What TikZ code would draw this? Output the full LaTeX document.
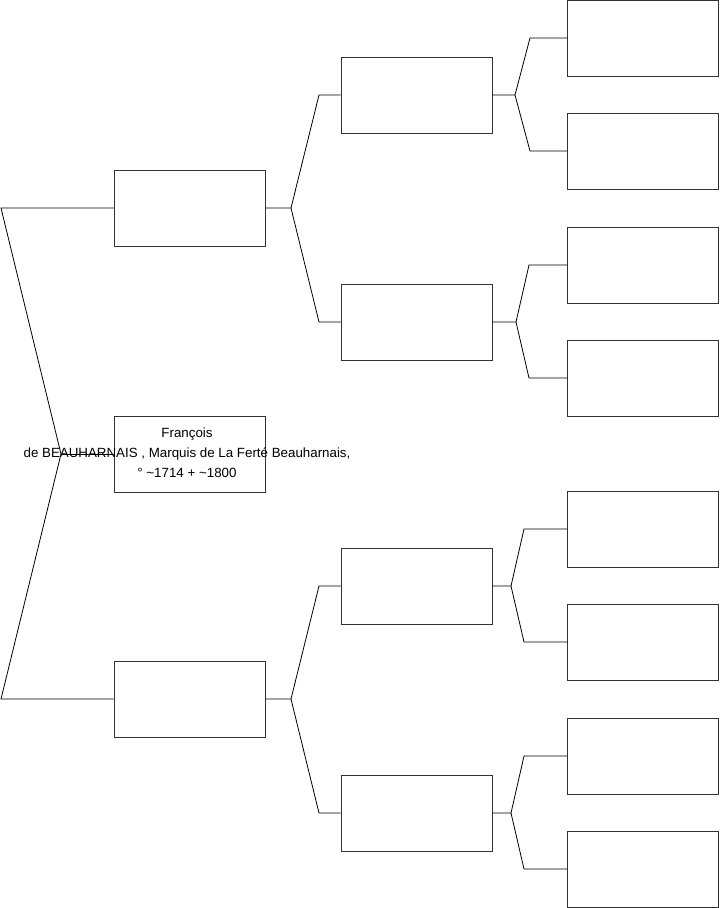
\documentclass[tikz,border=0pt]{standalone}
\usepackage{fontspec}
\setmainfont{Liberation Sans}
\usetikzlibrary{positioning}
\definecolor{BoxGray}{HTML}{333333}
\tikzset{
  person/.style={draw=BoxGray, fill=white, minimum width=113.25pt, minimum height=57pt, inner sep=0pt},
  nametext/.style={align=center, font=\fontsize{10pt}{15pt}\selectfont, inner sep=0pt},
  link/.style={draw=black, line width=0.6pt}
}
\begin{document}
\begin{tikzpicture}[x=0.75pt, y=-0.75pt]
\useasboundingbox (0,0) rectangle (719,908);

% person and parents
\node[person] (self) at (189.5,454) {};
\node[person] (fa) at (189.5,208) {};
\node[person] (mo) at (189.5,699) {};

% grandparents
\node[person] (ffa) at (416.5,95) {};
\node[person] (fmo) at (416.5,322) {};
\node[person] (mfa) at (416.5,586) {};
\node[person] (mmo) at (416.5,813) {};

% great-grandparents
\node[person] (g1) at (643,38) {};
\node[person] (g2) at (643,151) {};
\node[person] (g3) at (643,265) {};
\node[person] (g4) at (643,378) {};
\node[person] (g5) at (643,529) {};
\node[person] (g6) at (643,642) {};
\node[person] (g7) at (643,756) {};
\node[person] (g8) at (643,869) {};

% fork points
\coordinate (ltop) at (1,208);
\coordinate (lmid) at (61,454);
\coordinate (lbot) at (1,699);

\coordinate (kfa) at (291,208);
\coordinate (kmo) at (291,699);
\coordinate (kffa) at (515,95);
\coordinate (kfmo) at (516,322);
\coordinate (kmfa) at (511,586);
\coordinate (kmmo) at (511,813);

\draw[link] (fa.west) -- (ltop) -- (lmid) -- (lbot) -- (mo.west);
\draw[link] (lmid) -- (self.west);

\draw[link] (fa.east) -- (kfa) -- (319,95) -- (ffa.west);
\draw[link] (kfa) -- (319,322) -- (fmo.west);
\draw[link] (mo.east) -- (kmo) -- (319,586) -- (mfa.west);
\draw[link] (kmo) -- (319,813) -- (mmo.west);

\draw[link] (ffa.east) -- (kffa) -- (530,38) -- (g1.west);
\draw[link] (kffa) -- (530,151) -- (g2.west);
\draw[link] (fmo.east) -- (kfmo) -- (529,265) -- (g3.west);
\draw[link] (kfmo) -- (529,378) -- (g4.west);
\draw[link] (mfa.east) -- (kmfa) -- (524,529) -- (g5.west);
\draw[link] (kmfa) -- (524,642) -- (g6.west);
\draw[link] (mmo.east) -- (kmmo) -- (524,756) -- (g7.west);
\draw[link] (kmmo) -- (524,869) -- (g8.west);

% name over the link
\node[nametext] (selftext) at (187,453) {François\\de BEAUHARNAIS , Marquis de La Ferté Beauharnais,\\° \textasciitilde1714 + \textasciitilde1800};
\end{tikzpicture}
\end{document}
